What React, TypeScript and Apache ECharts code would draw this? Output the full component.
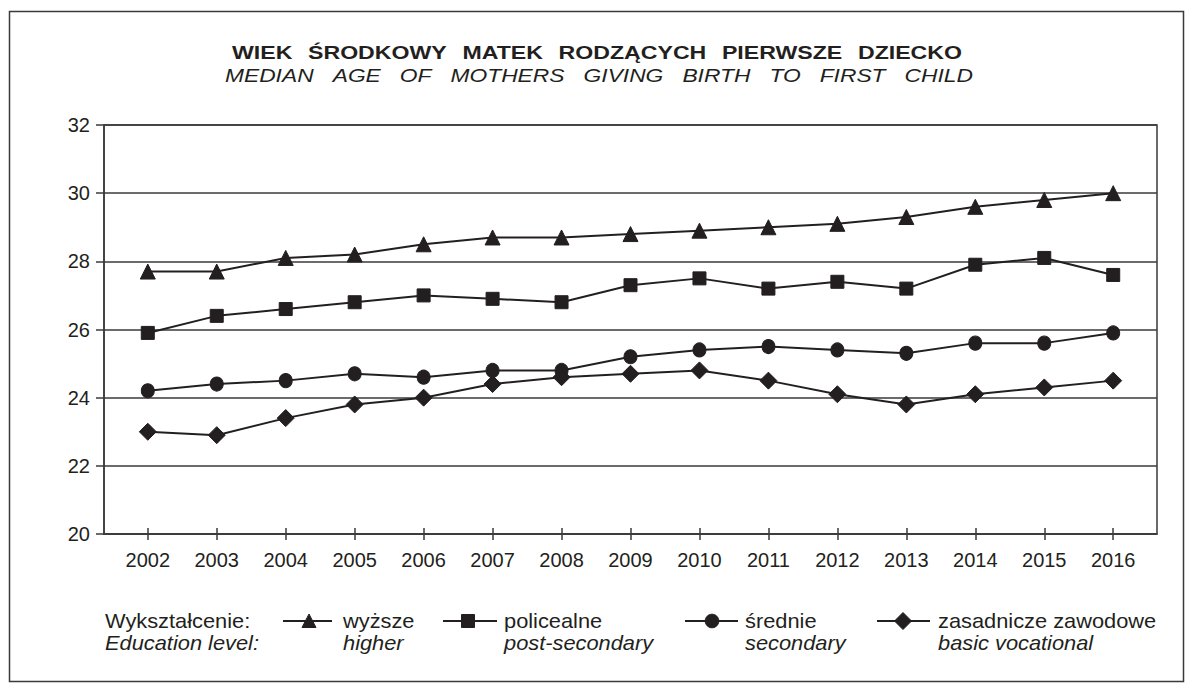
import React, { useEffect, useRef } from 'react';
import * as echarts from 'echarts';

// ---------- data ----------
const years = [2002, 2003, 2004, 2005, 2006, 2007, 2008, 2009, 2010, 2011, 2012, 2013, 2014, 2015, 2016];
const higher = [27.7, 27.7, 28.1, 28.2, 28.5, 28.7, 28.7, 28.8, 28.9, 29.0, 29.1, 29.3, 29.6, 29.8, 30.0];
const postSecondary = [25.9, 26.4, 26.6, 26.8, 27.0, 26.9, 26.8, 27.3, 27.5, 27.2, 27.4, 27.2, 27.9, 28.1, 27.6];
const secondary = [24.2, 24.4, 24.5, 24.7, 24.6, 24.8, 24.8, 25.2, 25.4, 25.5, 25.4, 25.3, 25.6, 25.6, 25.9];
const basicVocational = [23.0, 22.9, 23.4, 23.8, 24.0, 24.4, 24.6, 24.7, 24.8, 24.5, 24.1, 23.8, 24.1, 24.3, 24.5];
const yMin = 20;
const yMax = 32;
const yStep = 2;

const titlePl = 'WIEK ŚRODKOWY MATEK RODZĄCYCH PIERWSZE DZIECKO';
const titleEn = 'MEDIAN AGE OF MOTHERS GIVING BIRTH TO FIRST CHILD';
const legendHeadPl = 'Wykształcenie:';
const legendHeadEn = 'Education level:';
const namesPl = ['wyższe', 'policealne', 'średnie', 'zasadnicze zawodowe'];
const namesEn = ['higher', 'post-secondary', 'secondary', 'basic vocational'];

// ---------- style / layout ----------
const INK = '#231f20';
const GRID_COLOR = '#3a3a3a';
const FONT = '"Liberation Sans", Arial, Helvetica, sans-serif';
const symbols = ['triangle', 'rect', 'circle', 'diamond'];
const symbolSizes: any[] = [[15, 15], [13, 13], [13, 14], [17, 17]];
const legendLayout = [
  { lx0: 283, lx1: 332, mx: 309, tx: 343 },
  { lx0: 443, lx1: 497, mx: 468, tx: 504 },
  { lx0: 685, lx1: 738, mx: 712, tx: 745 },
  { lx0: 877, lx1: 930, mx: 903, tx: 938 },
];
const LEG_SIZE = 20.5;
const LEG_SCALE = 1.065;

function spreadWords(text: string, font: string, scaleX: number, x0: number, x1: number) {
  const ctx = document.createElement('canvas').getContext('2d') as CanvasRenderingContext2D;
  ctx.font = font;
  const words = text.split(' ');
  const widths = words.map((w) => ctx.measureText(w).width * scaleX);
  const total = widths.reduce((a, b) => a + b, 0);
  const gap = (x1 - x0 - total) / (words.length - 1);
  let x = x0;
  return words.map((w, i) => {
    const r = { text: w, x };
    x += widths[i] + gap;
    return r;
  });
}

function legendSymbol(kind: string, cx: number, cy: number): any {
  const style = { fill: INK, stroke: INK, lineWidth: 1 };
  if (kind === 'triangle') {
    return { type: 'polygon', shape: { points: [[cx, cy - 7], [cx + 7, cy + 6.5], [cx - 7, cy + 6.5]] }, style };
  }
  if (kind === 'rect') {
    return { type: 'rect', shape: { x: cx - 6.5, y: cy - 6.5, width: 13, height: 13 }, style };
  }
  if (kind === 'circle') {
    return { type: 'circle', shape: { cx, cy, r: 6.8 }, style };
  }
  return { type: 'polygon', shape: { points: [[cx, cy - 8.5], [cx + 8.5, cy], [cx, cy + 8.5], [cx - 8.5, cy]] }, style };
}

function legendText(text: string, x: number, y: number, italic: boolean): any {
  return {
    type: 'text', x, y, scaleX: LEG_SCALE, silent: true,
    style: {
      text, fontSize: LEG_SIZE, fontStyle: italic ? 'italic' : 'normal',
      fontFamily: FONT, fill: INK, verticalAlign: 'middle',
    },
  };
}

export default function App() {
  const ref = useRef<HTMLDivElement>(null);

  useEffect(() => {
    if (!ref.current) return;
    const chart = echarts.init(ref.current, null, { renderer: 'svg' });

    const titleSize = 18.5;
    const subSize = 19;
    const titleScale = 1.25;
    const subScale = 1.2;
    const titleWords = spreadWords(titlePl, `bold ${titleSize}px ${FONT}`, titleScale, 232, 962);
    const subWords = spreadWords(titleEn, `italic ${subSize}px ${FONT}`, subScale, 225, 973);

    const graphics: any[] = [
      {
        type: 'rect',
        shape: { x: 9.5, y: 11.5, width: 1174, height: 670 },
        style: { fill: 'none', stroke: GRID_COLOR, lineWidth: 1.5 },
        silent: true,
      },
    ];
    titleWords.forEach((w) => {
      graphics.push({
        type: 'text', x: w.x, y: 52, scaleX: titleScale, silent: true,
        style: { text: w.text, fontSize: titleSize, fontWeight: 'bold', fontFamily: FONT, fill: INK, verticalAlign: 'middle' },
      });
    });
    subWords.forEach((w) => {
      graphics.push({
        type: 'text', x: w.x, y: 75, scaleX: subScale, silent: true,
        style: { text: w.text, fontSize: subSize, fontStyle: 'italic', fontFamily: FONT, fill: INK, verticalAlign: 'middle' },
      });
    });

    const legY1 = 621;
    const legY2 = 643;
    graphics.push(legendText(legendHeadPl, 105, legY1, false));
    graphics.push(legendText(legendHeadEn, 105, legY2, true));
    legendLayout.forEach((l, i) => {
      graphics.push({
        type: 'line', shape: { x1: l.lx0, y1: legY1, x2: l.lx1, y2: legY1 },
        style: { stroke: INK, lineWidth: 2 }, silent: true,
      });
      graphics.push(legendSymbol(symbols[i], l.mx, legY1));
      graphics.push(legendText(namesPl[i], l.tx, legY1, false));
      graphics.push(legendText(namesEn[i], l.tx, legY2, true));
    });

    const pad = 0.635;
    const seriesData = [higher, postSecondary, secondary, basicVocational];

    const option: any = {
      animation: false,
      backgroundColor: '#ffffff',
      grid: {
        left: 104, top: 125, width: 1053, height: 409,
        show: true, borderColor: GRID_COLOR, borderWidth: 1.5, backgroundColor: 'transparent',
      },
      xAxis: [
        {
          type: 'value',
          min: years[0] - pad,
          max: years[years.length - 1] + pad,
          axisLine: { show: true, lineStyle: { color: GRID_COLOR, width: 1.5 } },
          axisTick: { show: true, length: 6, customValues: years, lineStyle: { color: GRID_COLOR, width: 1.5 } },
          axisLabel: {
            show: true, customValues: years, margin: 16, fontSize: 20, fontFamily: FONT, color: INK,
            formatter: (v: number) => String(Math.round(v)),
          },
          splitLine: { show: false },
        },
        {
          type: 'value',
          position: 'bottom',
          min: years[0] - pad,
          max: years[years.length - 1] + pad,
          axisLine: { show: false },
          axisTick: { show: true, inside: true, length: 6, customValues: years, lineStyle: { color: GRID_COLOR, width: 1.5 } },
          axisLabel: { show: false },
          splitLine: { show: false },
        },
      ],
      yAxis: {
        type: 'value',
        min: yMin, max: yMax, interval: yStep,
        axisLine: { show: true, lineStyle: { color: GRID_COLOR, width: 1.5 } },
        axisTick: { show: true, length: 8, lineStyle: { color: GRID_COLOR, width: 1.5 } },
        axisLabel: { margin: 14, fontSize: 20, fontFamily: FONT, color: INK },
        splitLine: { show: true, lineStyle: { color: GRID_COLOR, width: 1.5 } },
      },
      series: seriesData.map((vals, i) => ({
        name: namesPl[i],
        type: 'line',
        xAxisIndex: 0,
        data: vals.map((v, j) => [years[j], v]),
        symbol: symbols[i],
        symbolSize: symbolSizes[i],
        showAllSymbol: true,
        lineStyle: { color: INK, width: 2 },
        itemStyle: { color: INK, borderColor: INK, borderWidth: 1 },
        z: 3,
      })),
      graphic: graphics,
    };
    chart.setOption(option);
    return () => chart.dispose();
  }, []);

  return (
    <div
      ref={ref}
      style={{ position: 'absolute', left: 0, top: 0, width: 1192, height: 691, background: '#fff' }}
    />
  );
}
